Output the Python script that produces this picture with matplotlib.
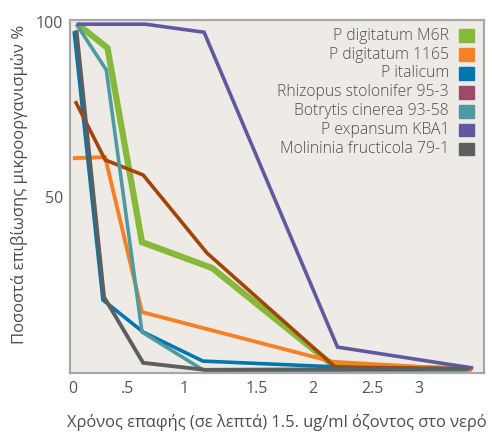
import matplotlib.pyplot as plt
from matplotlib.patches import Rectangle

plt.rcParams['font.family'] = ['Open Sans', 'DejaVu Sans']

# δεδομένα (χρόνος σε λεπτά, επιβίωση %)
names = ['P digitatum M6R', 'P digitatum 1165', 'P italicum', 'Rhizopus stolonifer 95-3',
         'Botrytis cinerea 93-58', 'P expansum KBA1', 'Molininia fructicola 79-1']
swatch_colors = ['#86b83a', '#f58025', '#0078ae', '#9b4a69', '#4e9aa0', '#6059a0', '#5d5e60']
line_colors = ['#86b83a', '#f58025', '#0078ae', '#a34408', '#4e9aa0', '#6059a0', '#5d5e60']

x_m6r = [0.04, 0.30, 0.60, 1.21, 2.28, 3.45]
y_m6r = [99.4, 92.6, 37.1, 29.7, 1.4, 0.9]
x_1165 = [0.0, 0.28, 0.60, 2.26, 3.47]
y_1165 = [61.1, 61.4, 17.1, 2.9, 0.6]
x_ital = [0.01, 0.26, 0.61, 1.13, 2.32, 3.34]
y_ital = [97.4, 20.6, 11.4, 3.1, 1.4, 0.0]
x_rhiz = [0.02, 0.28, 0.61, 1.165, 2.28, 3.45]
y_rhiz = [77.4, 60.6, 56.3, 34.0, 1.4, 0.9]
x_botr = [0.03, 0.29, 0.60, 1.15, 3.43]
y_botr = [99.4, 86.3, 11.4, 0.2, 0.2]
x_exp = [0.03, 0.63, 1.14, 2.30, 3.48]
y_exp = [99.4, 99.4, 97.1, 7.1, 1.1]
x_mol = [0.03, 0.27, 0.61, 1.15, 3.43]
y_mol = [97.7, 21.4, 2.6, 0.6, 0.9]

xs = [x_m6r, x_1165, x_ital, x_rhiz, x_botr, x_exp, x_mol]
ys = [y_m6r, y_1165, y_ital, y_rhiz, y_botr, y_exp, y_mol]
widths = [4.5, 2.8, 2.6, 2.6, 2.6, 2.6, 2.8]

xtick_pos = [0, 0.478, 0.965, 1.6, 2.087, 2.6, 3.009]
xtick_labels = ['0', '.5', '1', '1.5', '2', '2.5', '3']

fig = plt.figure(figsize=(4.92, 4.33), dpi=100)
ax = fig.add_axes([70/492, 1 - 373/433, 414/492, 353/433])
ax.set_facecolor('#eeebe7')

for x, y, c, w in zip(xs, ys, line_colors, widths):
    ax.plot(x, y, color=c, lw=w, solid_joinstyle='miter', solid_capstyle='butt')

ax.set_xlim(-0.026, 3.574)
ax.set_ylim(-0.3, 100.6)
ax.set_xticks(xtick_pos)
ax.set_xticklabels(xtick_labels)
ax.set_yticks([50, 100])
ax.tick_params(length=0, labelsize=11.5, colors='#555555')
ax.tick_params(axis='x', pad=6)
ax.tick_params(axis='y', pad=5)
for s in ax.spines.values():
    s.set_color('#a8a8a8')
    s.set_linewidth(1.6)

# υπόμνημα
for i, (n, c) in enumerate(zip(names, swatch_colors)):
    yy = 0.9555 - i * 0.0535
    ax.text(0.9155, yy, n, transform=ax.transAxes, ha='right', va='center',
            fontsize=11.3, color='#4d4d4d', fontweight='light')
    ax.add_patch(Rectangle((0.94, yy - 0.018), 0.036, 0.036, transform=ax.transAxes,
                           color=c, zorder=5))

ax.set_xlabel('Χρόνος επαφής (σε λεπτά) 1.5. ug/ml όζοντος στο νερό',
              fontsize=11.9, color='#4d4d4d', labelpad=12)
fig.text(20/492, 1 - 184/433, 'Ποσοστά επιβίωσης μικροοργανισμών %', rotation=90,
         ha='center', va='center', fontsize=12, color='#4d4d4d')

fig.savefig('out.png', dpi=100)
